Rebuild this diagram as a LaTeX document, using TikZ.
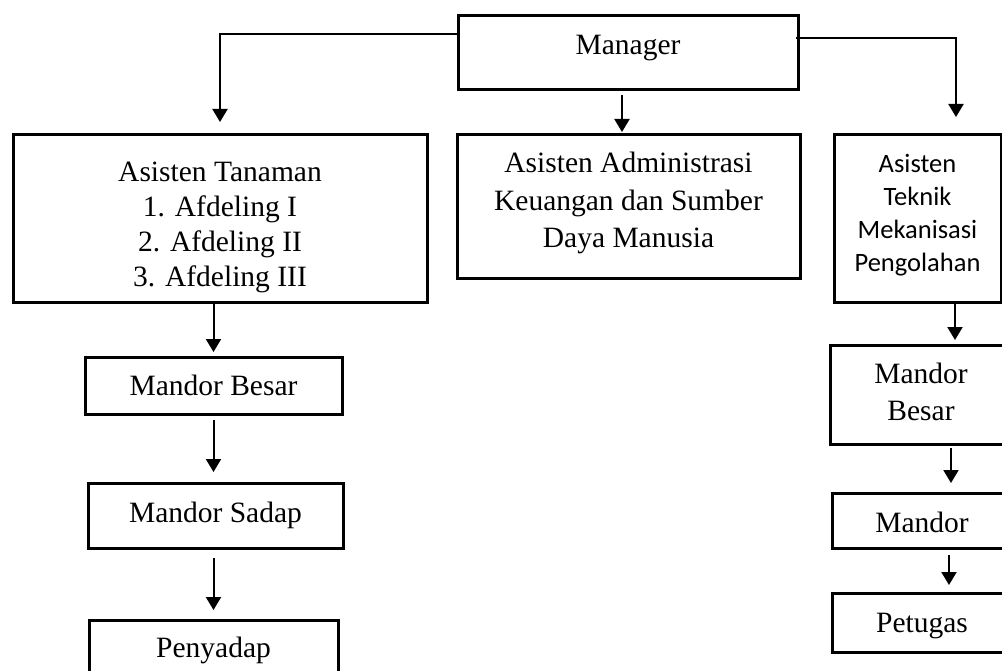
\documentclass[tikz,border=0pt]{standalone}
\usepackage{fontspec}
\setmainfont{Liberation Serif}
\newfontfamily\calfont{Carlito}
\usetikzlibrary{arrows.meta}
\begin{document}
\begin{tikzpicture}[x=1pt,y=-1pt,
  box/.style={draw, line width=3pt, inner sep=0pt, align=center,
    font=\fontsize{29.5}{36.5}\selectfont},
  calbox/.style={box, font=\calfont\fontsize{26.5}{33}\selectfont},
  base/.style={text height=#1pt, text depth=0pt},
  conn/.style={line width=2pt, -{Triangle[width=15pt,length=13pt]}}
]
\useasboundingbox (0,0) rectangle (1002,671);
\clip (0,0) rectangle (1002,671);
% boxes
\node[box, base=4, minimum width=340pt, minimum height=74pt] (mgr) at (628,53) {Manager};
\node[box, base=136, minimum width=414pt, minimum height=168pt, font=\fontsize{29.5}{35}\selectfont] (tan) at (220,219) {Asisten Tanaman\\1. Afdeling I\\2. Afdeling II\\3. Afdeling III};
\node[box, base=82, minimum width=343pt, minimum height=144pt, font=\fontsize{29.5}{37.5}\selectfont] (adm) at (628.5,207) {Asisten Administrasi\\Keuangan dan Sumber\\Daya Manusia};
\node[calbox, base=106, minimum width=167pt, minimum height=168pt] (tek) at (917.5,219) {Asisten\\Teknik\\Mekanisasi\\Pengolahan};
\node[box, base=19, minimum width=257pt, minimum height=57pt] (mb) at (213.5,385.5) {Mandor Besar};
\node[box, base=13, minimum width=255pt, minimum height=65pt] (ms) at (215.5,515.5) {Mandor Sadap};
\node[box, base=14, minimum width=249pt, minimum height=60pt] (pen) at (213.5,650) {Penyadap};
\node[box, base=51, minimum width=182pt, minimum height=99pt, font=\fontsize{29.5}{37}\selectfont] (rmb) at (921,394.5) {Mandor\\Besar};
\node[box, base=23, minimum width=180pt, minimum height=55pt] (rm) at (922,520.5) {Mandor};
\node[box, base=19, minimum width=180pt, minimum height=59pt] (pet) at (922,622.5) {Petugas};
% connectors
\draw[conn, shorten >=11.5pt] ([yshift=19pt]mgr.west) -| (tan.north);
\draw[conn, shorten <=3.5pt, shorten >=1.5pt] ([xshift=-6pt]mgr.south) -- ([xshift=-6.5pt]adm.north);
\draw[conn, shorten >=16.5pt] ([yshift=15pt,xshift=-4pt]mgr.east) -| ([xshift=38.5pt]tek.north);
\draw[conn, shorten >=3.5pt] (tan.south -| mb.north) -- (mb.north);
\draw[conn, shorten <=4.5pt, shorten >=9.5pt] (mb.south) -- (mb.south |- ms.north);
\draw[conn, shorten <=8.5pt, shorten >=8.5pt] (ms.south -| pen.north) -- (pen.north);
\draw[conn, shorten >=3.5pt] ([xshift=37.5pt]tek.south) -- ([xshift=34pt]rmb.north);
\draw[conn, shorten <=2.5pt, shorten >=8.5pt] ([xshift=30pt]rmb.south) -- ([xshift=29pt]rm.north);
\draw[conn, shorten <=5.5pt, shorten >=6.5pt] ([xshift=27pt]rm.south) -- ([xshift=27pt]pet.north);
\end{tikzpicture}
\end{document}
